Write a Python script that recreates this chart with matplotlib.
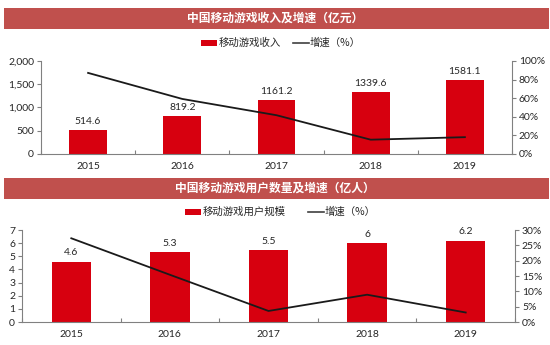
import matplotlib
matplotlib.use("Agg")
import matplotlib.pyplot as plt
from matplotlib.patches import Rectangle
from matplotlib.lines import Line2D
import numpy as np

plt.rcParams['font.family'] = ['Lato', 'Noto Sans CJK SC', 'DejaVu Sans']

years = ["2015", "2016", "2017", "2018", "2019"]
revenue = [514.6, 819.2, 1161.2, 1339.6, 1581.1]
revenue_growth = [87.2, 59.2, 41.7, 15.4, 18.1]
users = [4.6, 5.3, 5.5, 6, 6.2]
user_labels = ["4.6", "5.3", "5.5", "6", "6.2"]
users_growth = [27.3, 15.4, 3.6, 8.9, 3.1]

title1 = "中国移动游戏收入及增速（亿元）"
title2 = "中国移动游戏用户数量及增速（亿人）"
leg_bar1 = "移动游戏收入"
leg_bar2 = "移动游戏用户规模"
leg_line = "增速（%）"

W, H = 550, 345
fig = plt.figure(figsize=(W / 100, H / 100), dpi=100)
fig.patch.set_facecolor("white")

BAR = "#D7000F"
HEAD = "#C0504D"
AX = "#808080"
TXT = "#262626"
CJK = ['Noto Sans CJK SC', 'DejaVu Sans']


def px(x0, y0, x1, y1):
    return [x0 / W, 1 - y1 / H, (x1 - x0) / W, (y1 - y0) / H]


def header(y0, y1, text):
    fig.patches.append(Rectangle((4 / W, 1 - y1 / H), 545 / W, (y1 - y0) / H,
                                 transform=fig.transFigure, facecolor=HEAD,
                                 edgecolor="none", zorder=0))
    fig.text(0.5, 1 - (y0 + y1) / 2 / H, text, ha="center", va="center",
             color="white", fontsize=8.5, fontweight="bold", family=CJK)


def legend(y, xr, bar_text, xl):
    fig.patches.append(Rectangle((xr / W, 1 - (y + 3) / H), 16 / W, 6 / H,
                                 transform=fig.transFigure, facecolor=BAR,
                                 edgecolor="none"))
    fig.text((xr + 18) / W, 1 - y / H, bar_text, ha="left", va="center",
             fontsize=7.5, color=TXT, family=CJK)
    fig.lines.append(Line2D([xl / W, (xl + 16) / W], [1 - y / H, 1 - y / H],
                            transform=fig.transFigure, color="#404040", lw=1.2))
    fig.text((xl + 17) / W, 1 - y / H, leg_line, ha="left", va="center",
             fontsize=7.5, color=TXT, family=CJK)


def panel(rect, vals, labels, growth, ymax, ystep, yfmt, rmax, rstep, barw):
    ax = fig.add_axes(rect)
    x = np.arange(len(years))
    ax.bar(x, vals, width=barw, color=BAR, zorder=2)
    for xi, v, lab in zip(x, vals, labels):
        ax.annotate(lab, (xi, v), xytext=(0, 3), textcoords="offset points",
                    ha="center", va="bottom", fontsize=7.5, color=TXT)
    ax.set_xlim(-0.5, len(years) - 0.5)
    ax.set_ylim(0, ymax)
    ax.set_yticks(np.arange(0, ymax + ystep / 2, ystep))
    ax.yaxis.set_major_formatter(matplotlib.ticker.FuncFormatter(yfmt))
    ax.set_xticks(np.arange(-0.5, len(years), 1.0))
    ax.set_xticklabels([])
    ax.set_xticks(x, minor=True)
    ax.set_xticklabels(years, minor=True)
    ax.tick_params(axis="x", which="minor", length=0, pad=6, labelsize=7.5, labelcolor=TXT)
    ax.tick_params(axis="x", which="major", length=3, color=AX, direction="in")
    ax.tick_params(axis="y", length=3, color=AX, labelsize=7.5, labelcolor=TXT, pad=2)
    for s in ["top", "right"]:
        ax.spines[s].set_visible(False)
    for s in ["left", "bottom"]:
        ax.spines[s].set_color(AX)
        ax.spines[s].set_linewidth(0.8)
    ax2 = ax.twinx()
    ax2.plot(x, growth, color="#1a1a1a", lw=1.3, zorder=3)
    ax2.set_ylim(0, rmax)
    ax2.set_yticks(np.arange(0, rmax + rstep / 2, rstep))
    ax2.set_yticklabels([f"{int(t)}%" for t in np.arange(0, rmax + rstep / 2, rstep)])
    ax2.tick_params(axis="y", length=3, color=AX, labelsize=7.5, labelcolor=TXT, pad=2)
    for s in ["top", "left", "bottom"]:
        ax2.spines[s].set_visible(False)
    ax2.spines["right"].set_color(AX)
    ax2.spines["right"].set_linewidth(0.8)
    return ax


header(8, 29, title1)
legend(43, 201, leg_bar1, 293)
panel(px(41, 61, 512, 154), revenue, [f"{v:.1f}" for v in revenue], revenue_growth,
      2000, 500, lambda v, p: f"{int(v):,}", 100, 20, 0.4)

header(178, 199, title2)
legend(212, 185, leg_bar2, 308)
panel(px(22, 230, 515, 322), users, user_labels, users_growth,
      7, 1, lambda v, p: f"{int(v)}", 30, 5, 0.4)

fig.savefig("out.png", dpi=100, facecolor="white")
